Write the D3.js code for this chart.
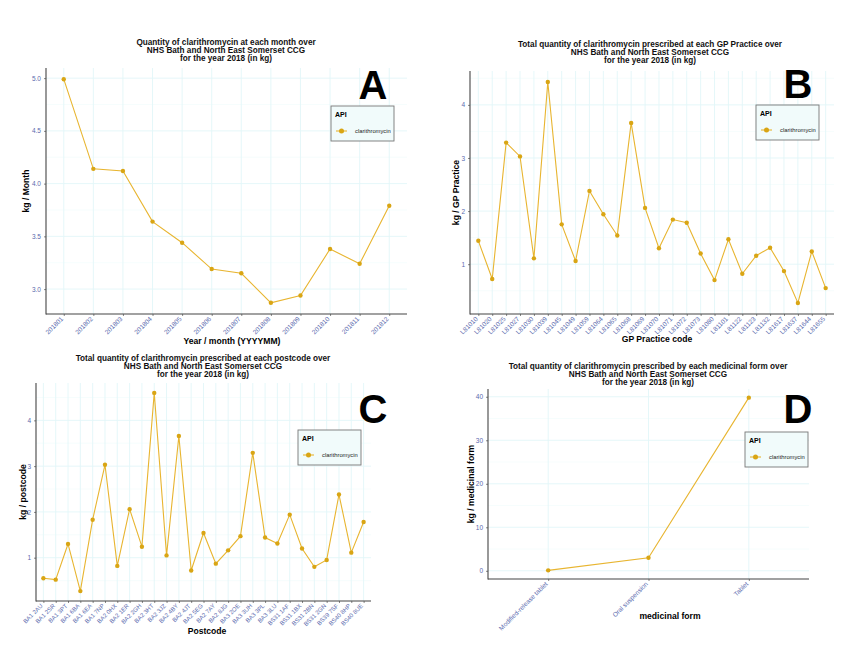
<!DOCTYPE html>
<html><head><meta charset="utf-8">
<script src="https://cdn.jsdelivr.net/npm/d3@7"></script>
<style>body{margin:0;background:#fff}svg{font-family:"Liberation Sans",Arial,sans-serif}</style>
</head><body><svg id="c" width="850" height="669"></svg>
<script>
// ---- data ----
const months = ["201801","201802","201803","201804","201805","201806","201807","201808","201809","201810","201811","201812"];
const monthKg = [4.99,4.14,4.12,3.64,3.44,3.19,3.15,2.87,2.94,3.38,3.24,3.79];
const monthTicks = [3.0,3.5,4.0,4.5,5.0];

const practices = ["L81010","L81020","L81025","L81027","L81030","L81039","L81045","L81049","L81059","L81064","L81065","L81068","L81069","L81070","L81071","L81072","L81073","L81080","L81101","L81122","L81123","L81132","L81617","L81637","L81644","L81655"];
const practiceKg = [1.44,0.72,3.29,3.03,1.11,4.43,1.75,1.06,2.38,1.94,1.54,3.66,2.06,1.30,1.84,1.78,1.20,0.70,1.47,0.82,1.16,1.31,0.87,0.27,1.24,0.55];
const practiceTicks = [1,2,3,4];

const postcodes = ["BA1 2AU","BA1 2SR","BA1 3PT","BA1 6BA","BA1 6EA","BA1 7NP","BA2 0HX","BA2 1ER","BA2 2GH","BA2 3HT","BA2 3JZ","BA2 4BY","BA2 4JT","BA2 5EG","BA2 7AY","BA2 8JG","BA3 2OE","BA3 3UH","BA3 3PL","BA3 3LU","BS31 1AF","BS31 1BX","BS31 2BN","BS31 2GN","BS39 7SF","BS40 8HP","BS40 8UE"];
const postcodeKg = [0.55,0.52,1.30,0.27,1.83,3.03,0.82,2.06,1.24,4.60,1.05,3.66,0.72,1.54,0.87,1.16,1.47,3.29,1.44,1.31,1.94,1.20,0.80,0.95,2.38,1.11,1.78];
const postcodeTicks = [1,2,3,4];

const forms = ["Modified-release tablet","Oral suspension","Tablet"];
const formKg = [0.1,3.0,39.8];
const formTicks = [0,10,20,30,40];

const seriesName = "clarithromycin";

// ---- drawing ----
const svg = d3.select("#c");
const lineCol = "#e8b530", ptCol = "#d9a514", tickCol = "#5a6aae";

function panel(o){
  const g = svg.append("g");
  const x = d3.scalePoint().domain(o.cats).range([o.l, o.r]).padding(0.6);
  const ext = d3.extent(o.vals), pad = (ext[1]-ext[0])*0.05;
  const y = d3.scaleLinear().domain([ext[0]-pad, ext[1]+pad]).range([o.b, o.t]);
  const yt = o.ticks;
  const dt = yt[1]-yt[0];
  const minor = [];
  for (let v = yt[0]-dt/2; v <= y.domain()[1]; v += dt) if (v >= y.domain()[0]) minor.push(v);
  g.selectAll(".mn").data(minor).enter().append("line")
    .attr("x1",o.l).attr("x2",o.r).attr("y1",d=>y(d)).attr("y2",d=>y(d))
    .attr("stroke","#f0fbfb").attr("stroke-width",0.6);
  g.selectAll(".mj").data(yt).enter().append("line")
    .attr("x1",o.l).attr("x2",o.r).attr("y1",d=>y(d)).attr("y2",d=>y(d))
    .attr("stroke","#e2f6f8").attr("stroke-width",0.9);
  g.selectAll(".vx").data(o.cats).enter().append("line")
    .attr("x1",d=>x(d)).attr("x2",d=>x(d)).attr("y1",o.t).attr("y2",o.b)
    .attr("stroke","#e2f6f8").attr("stroke-width",0.9);
  const ya = g.append("g").attr("transform",`translate(${o.l},0)`)
    .call(d3.axisLeft(y).tickValues(yt).tickSize(2).tickPadding(3).tickFormat(o.fmt));
  ya.select(".domain").remove();
  ya.selectAll("text").attr("fill",tickCol).style("font-size","6.5px");
  ya.selectAll("line").attr("stroke","#888");
  const xa = g.append("g").attr("transform",`translate(0,${o.b})`)
    .call(d3.axisBottom(x).tickSize(2).tickPadding(2));
  xa.select(".domain").remove();
  xa.selectAll("line").attr("stroke","#888");
  xa.selectAll("text").attr("fill",tickCol).style("font-size",(o.xfs||6.5)+"px")
    .attr("text-anchor","end").attr("dy","0.3em").attr("dx","0")
    .attr("transform","translate(-2,4) rotate(-45)").attr("y",0).attr("x",0);
  g.append("line").attr("x1",o.l).attr("x2",o.l).attr("y1",o.t).attr("y2",o.b+0.5).attr("stroke","#444").attr("stroke-width",1.1);
  g.append("line").attr("x1",o.l).attr("x2",o.r).attr("y1",o.b).attr("y2",o.b).attr("stroke","#444").attr("stroke-width",1.1);
  const pts = o.cats.map((c,i)=>[x(c), y(o.vals[i])]);
  g.append("path").attr("d", d3.line()(pts)).attr("fill","none").attr("stroke",lineCol).attr("stroke-width",1.1);
  g.selectAll(".pt").data(pts).enter().append("circle")
    .attr("cx",d=>d[0]).attr("cy",d=>d[1]).attr("r",2.2).attr("fill",ptCol);
  const tt = g.append("text").attr("text-anchor","middle").attr("font-weight","bold").style("font-size","8.2px").attr("fill","#111");
  o.title.forEach((s,i)=>tt.append("tspan").attr("x",o.tx).attr("y",o.ty+i*8).text(s));
  g.append("text").attr("x",o.xtx).attr("y",o.xty).attr("text-anchor","middle").attr("font-weight","bold").style("font-size","8.6px").text(o.xtitle);
  g.append("text").attr("transform",`translate(${o.ytx},${(o.t+o.b)/2}) rotate(-90)`).attr("text-anchor","middle").attr("font-weight","bold").style("font-size","8.6px").text(o.ytitle);
  g.append("text").attr("x",o.lx).attr("y",o.ly).attr("text-anchor","middle").attr("font-weight","bold").style("font-size","40px").attr("fill","#000").text(o.letter);
  const L = o.leg;
  g.append("rect").attr("x",L[0]).attr("y",L[1]).attr("width",63).attr("height",35).attr("fill","#f1fbfb").attr("stroke","#777").attr("stroke-width",0.9);
  g.append("text").attr("x",L[0]+4).attr("y",L[1]+11).attr("font-weight","bold").style("font-size","7px").text("API");
  g.append("line").attr("x1",L[0]+5).attr("x2",L[0]+16).attr("y1",L[1]+25).attr("y2",L[1]+25).attr("stroke",lineCol).attr("stroke-width",1.1);
  g.append("circle").attr("cx",L[0]+10.5).attr("cy",L[1]+25).attr("r",2.5).attr("fill",ptCol);
  g.append("text").attr("x",L[0]+24).attr("y",L[1]+27).style("font-size","5.8px").attr("fill","#222").text(seriesName);
}

panel({cats:months, vals:monthKg, ticks:monthTicks, fmt:d3.format(".1f"),
  l:46, r:407, t:68, b:314,
  title:["Quantity of clarithromycin at each month over","NHS Bath and North East Somerset CCG","for the year 2018 (in kg)"], tx:226, ty:45,
  xtitle:"Year / month (YYYYMM)", xtx:232, xty:344, ytitle:"kg / Month", ytx:29,
  letter:"A", lx:373, ly:99, leg:[331,106]});

panel({cats:practices, vals:practiceKg, ticks:practiceTicks, fmt:d3.format("d"),
  l:470, r:834, t:71, b:314,
  title:["Total quantity of clarithromycin prescribed at each GP Practice over","NHS Bath and North East Somerset CCG","for the year 2018 (in kg)"], tx:650, ty:47,
  xtitle:"GP Practice code", xtx:657, xty:342, ytitle:"kg / GP Practice", ytx:459,
  letter:"B", lx:798, ly:98, leg:[756,105]});

panel({cats:postcodes, vals:postcodeKg, ticks:postcodeTicks, fmt:d3.format("d"),
  l:36, r:371, t:383, b:601,
  title:["Total quantity of clarithromycin prescribed at each postcode over","NHS Bath and North East Somerset CCG","for the year 2018 (in kg)"], tx:203, ty:361,
  xtitle:"Postcode", xtx:207, xty:634, ytitle:"kg / postcode", ytx:26,
  letter:"C", lx:373, ly:423, leg:[298,430], xfs:6});

panel({cats:forms, vals:formKg, ticks:formTicks, fmt:d3.format("d"),
  l:488, r:809, t:389, b:579,
  title:["Total quantity of clarithromycin prescribed by each medicinal form over","NHS Bath and North East Somerset CCG","for the year 2018 (in kg)"], tx:648, ty:369,
  xtitle:"medicinal form", xtx:670, xty:619, ytitle:"kg / medicinal form", ytx:474,
  letter:"D", lx:798, ly:423, leg:[745,432]});
</script></body></html>
